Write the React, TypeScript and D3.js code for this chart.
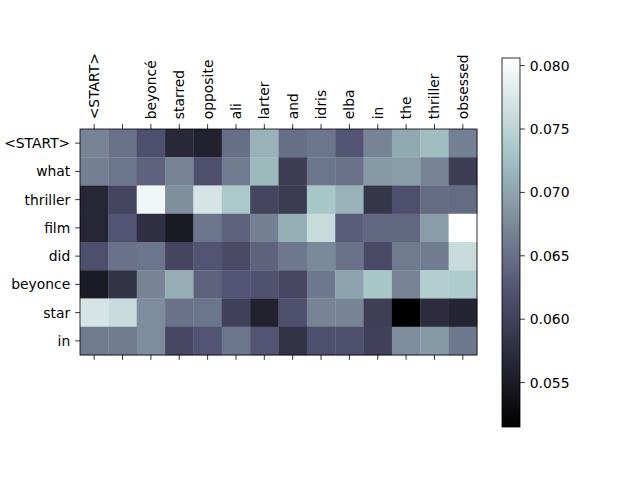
import React from "react";
import * as d3 from "d3";

const xLabels = ["<START>", "", "beyoncé", "starred", "opposite", "ali", "larter", "and", "idris", "elba", "in", "the", "thriller", "obsessed"];
const yLabels = ["<START>", "what", "thriller", "film", "did", "beyonce", "star", "in"];

const row0 = [0.0669, 0.0652, 0.0617, 0.0567, 0.0559, 0.0649, 0.0713, 0.0649, 0.0655, 0.0623, 0.0669, 0.0704, 0.0722, 0.0666];
const row1 = [0.0666, 0.0655, 0.0637, 0.0669, 0.0617, 0.0661, 0.0719, 0.0594, 0.0655, 0.0652, 0.069, 0.0693, 0.0669, 0.0594];
const row2 = [0.0564, 0.0605, 0.0794, 0.0681, 0.0771, 0.0736, 0.0605, 0.0591, 0.0733, 0.0713, 0.0585, 0.0617, 0.0646, 0.0646];
const row3 = [0.0564, 0.0623, 0.0576, 0.0547, 0.0655, 0.0637, 0.0666, 0.071, 0.0759, 0.0631, 0.0643, 0.0643, 0.0693, 0.0806];
const row4 = [0.0617, 0.0652, 0.0655, 0.0605, 0.0623, 0.0611, 0.0637, 0.0658, 0.0675, 0.0652, 0.0611, 0.0661, 0.0661, 0.0759];
const row5 = [0.055, 0.0582, 0.0669, 0.071, 0.0637, 0.0623, 0.062, 0.0608, 0.0658, 0.0698, 0.0733, 0.0669, 0.0742, 0.0739];
const row6 = [0.0771, 0.0759, 0.0678, 0.0652, 0.0655, 0.0599, 0.0559, 0.0617, 0.0669, 0.0669, 0.0596, 0.0515, 0.0573, 0.0562];
const row7 = [0.0661, 0.0661, 0.0678, 0.0608, 0.0623, 0.0655, 0.0623, 0.0582, 0.0617, 0.0617, 0.0599, 0.0678, 0.069, 0.0658];
const rows = [row0, row1, row2, row3, row4, row5, row6, row7];

const cbTicks = [0.055, 0.06, 0.065, 0.07, 0.075, 0.08];

// matplotlib "bone" colormap
const rS = d3.scaleLinear().domain([0, 0.746032, 1]).range([0, 0.652778, 1]);
const gS = d3.scaleLinear().domain([0, 0.365079, 0.746032, 1]).range([0, 0.319444, 0.777778, 1]);
const bS = d3.scaleLinear().domain([0, 0.365079, 1]).range([0, 0.444444, 1]);
const bone = (t: number) => {
  const c = Math.max(0, Math.min(1, t));
  return d3.rgb(rS(c) * 255, gS(c) * 255, bS(c) * 255).formatHex();
};

const FONT = "DejaVu Sans, sans-serif";
const TL = 4.86;
const PAD = 4.86;

export default function App() {
  const all = rows.flat();
  const vmin = d3.min(all) as number;
  const vmax = d3.max(all) as number;
  const norm = d3.scaleLinear().domain([vmin, vmax]).range([0, 1]);

  const L = 80, R = 477, T = 129, B = 355;
  const x = d3.scaleBand<number>().domain(d3.range(xLabels.length)).range([L, R]).padding(0);
  const y = d3.scaleBand<number>().domain(d3.range(yLabels.length)).range([T, B]).padding(0);

  const cbL = 502, cbR = 520, cbT = 58, cbB = 427;
  const cy = d3.scaleLinear().domain([vmin, vmax]).range([cbB, cbT]);
  const stops = d3.range(0, 1.0001, 0.02);

  return (
    <svg width={640} height={480} style={{ position: "absolute", left: 0, top: 0, background: "#fff" }} fontFamily={FONT} fontSize={13.9}>
      <defs>
        <linearGradient id="cbg" x1="0" y1="1" x2="0" y2="0">
          {stops.map((s, i) => (
            <stop key={i} offset={s} stopColor={bone(s)} />
          ))}
        </linearGradient>
      </defs>
      {rows.map((r, i) =>
        r.map((v, j) => (
          <rect key={`${i}-${j}`} x={x(j)} y={y(i)} width={x.bandwidth() + 0.3} height={y.bandwidth() + 0.3} fill={bone(norm(v))} />
        ))
      )}
      <rect x={L} y={T} width={R - L} height={B - T} fill="none" stroke="#000" strokeWidth={0.8} />
      {xLabels.map((lab, j) => {
        const cx = (x(j) as number) + x.bandwidth() / 2;
        return (
          <g key={j}>
            <line x1={cx} x2={cx} y1={T} y2={T - TL} stroke="#000" strokeWidth={0.8} />
            <line x1={cx} x2={cx} y1={B} y2={B + TL} stroke="#000" strokeWidth={0.8} />
            <text transform={`translate(${cx},${T - TL - PAD}) rotate(-90)`} textAnchor="start" dominantBaseline="central" fill="#000">
              {lab}
            </text>
          </g>
        );
      })}
      {yLabels.map((lab, i) => {
        const cyy = (y(i) as number) + y.bandwidth() / 2;
        return (
          <g key={i}>
            <line x1={L} x2={L - TL} y1={cyy} y2={cyy} stroke="#000" strokeWidth={0.8} />
            <text x={L - TL - PAD} y={cyy} textAnchor="end" dominantBaseline="central" fill="#000">
              {lab}
            </text>
          </g>
        );
      })}
      <rect x={cbL} y={cbT} width={cbR - cbL} height={cbB - cbT} fill="url(#cbg)" stroke="#000" strokeWidth={0.8} />
      {cbTicks.map((t, i) => (
        <g key={i}>
          <line x1={cbR} x2={cbR + TL} y1={cy(t)} y2={cy(t)} stroke="#000" strokeWidth={0.8} />
          <text x={cbR + TL + PAD} y={cy(t)} dominantBaseline="central" fill="#000">
            {t.toFixed(3)}
          </text>
        </g>
      ))}
    </svg>
  );
}
